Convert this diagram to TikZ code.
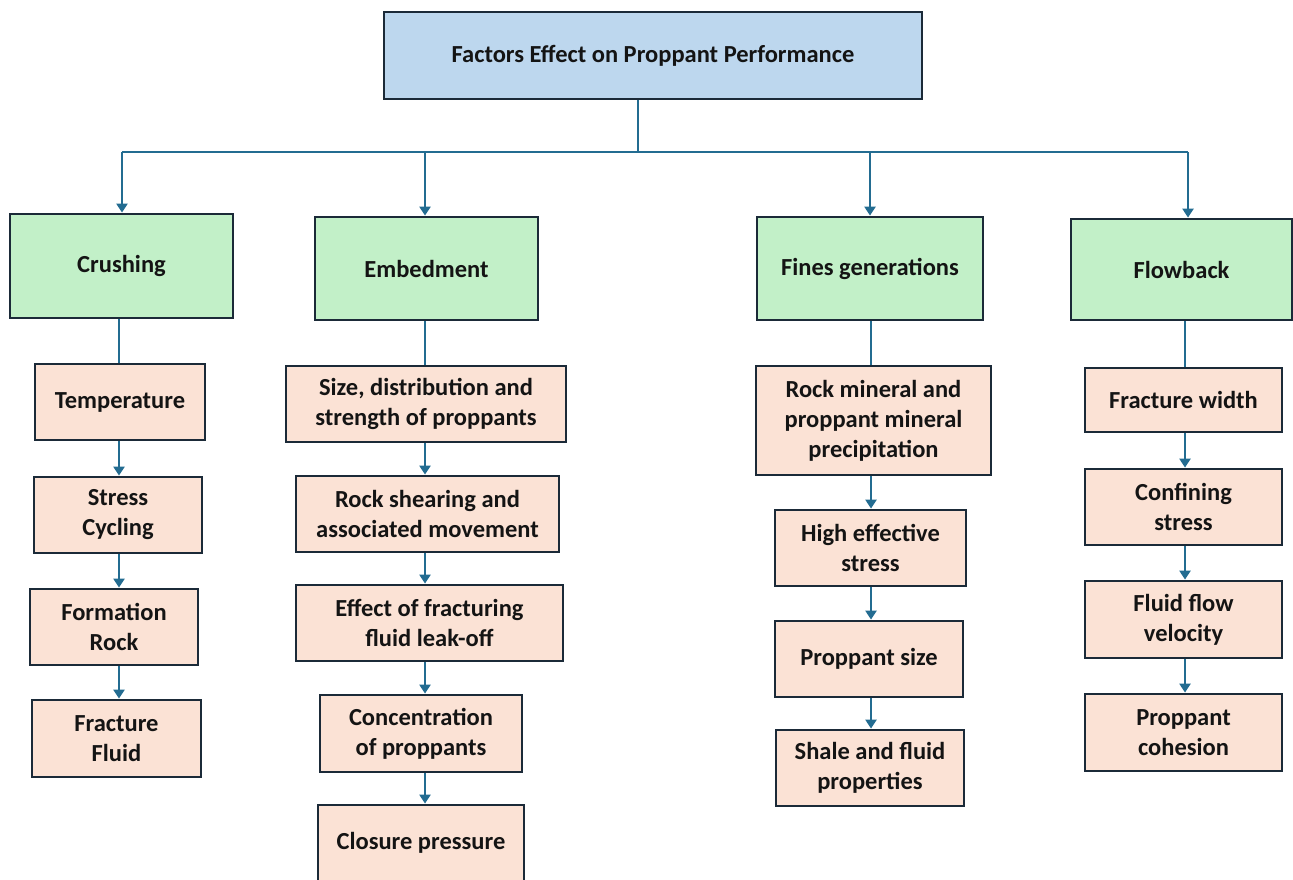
\documentclass[tikz,border=0pt]{standalone}
\usepackage{fontspec}
\setmainfont{Carlito}
\usetikzlibrary{arrows.meta}
\definecolor{bordc}{HTML}{1B2A38}
\definecolor{linec}{HTML}{236C91}
\definecolor{topc}{HTML}{BDD7EE}
\definecolor{catc}{HTML}{C2F0C8}
\definecolor{itemc}{HTML}{FBE2D5}
\begin{document}
\begin{tikzpicture}[x=1pt,y=-1pt,
  boxbase/.style={draw=bordc, line width=2.8pt, align=center, inner sep=0pt, text=black!92,
    font=\bfseries\fontsize{24.5}{30}\selectfont},
  topbox/.style={boxbase, fill=topc},
  catbox/.style={boxbase, fill=catc},
  itembox/.style={boxbase, fill=itemc},
  conn/.style={draw=linec, line width=2.4pt},
  arr/.style={conn, -{Triangle[width=11pt,length=9pt]}}]
\useasboundingbox (0,0) rectangle (1293,879);

% top
\node[topbox, minimum width=538, minimum height=87] (top) at (653,55.5) {Factors Effect on Proppant Performance};

% categories
\node[catbox, minimum width=223, minimum height=104] (crush) at (121.5,266) {Crushing};
\node[catbox, minimum width=223, minimum height=103] (embed) at (426.5,268.5) {Embedment};
\node[catbox, minimum width=226, minimum height=103] (fines) at (870,268.5) {Fines generations};
\node[catbox, minimum width=221, minimum height=101] (flow) at (1181.5,269.5) {Flowback};

% crushing column
\node[itembox, minimum width=170, minimum height=76] (c1) at (120,402) {Temperature};
\node[itembox, minimum width=168, minimum height=76] (c2) at (118,515) {Stress\\Cycling};
\node[itembox, minimum width=168, minimum height=76] (c3) at (114,627) {Formation\\Rock};
\node[itembox, minimum width=169, minimum height=77] (c4) at (116.5,738.5) {Fracture\\Fluid};

% embedment column
\node[itembox, minimum width=280, minimum height=76] (e1) at (426,404) {Size, distribution and\\strength of proppants};
\node[itembox, minimum width=263, minimum height=76] (e2) at (427.5,514) {Rock shearing and\\associated movement};
\node[itembox, minimum width=267, minimum height=76] (e3) at (429.5,623) {Effect of fracturing\\fluid leak-off};
\node[itembox, minimum width=202, minimum height=77] (e4) at (421,733.5) {Concentration\\of proppants};
\node[itembox, minimum width=206, minimum height=76] (e5) at (421,843) {Closure pressure};

% fines column
\node[itembox, minimum width=235, minimum height=109] (f1) at (873.5,420.5) {Rock mineral and\\proppant mineral\\precipitation};
\node[itembox, minimum width=191, minimum height=76] (f2) at (870.5,548) {High effective\\stress};
\node[itembox, minimum width=188, minimum height=76] (f3) at (869,659) {Proppant size};
\node[itembox, minimum width=188, minimum height=76] (f4) at (870,768) {Shale and fluid\\properties};

% flowback column
\node[itembox, minimum width=197, minimum height=64] (g1) at (1183.5,400) {Fracture width};
\node[itembox, minimum width=197, minimum height=76] (g2) at (1183.5,507) {Confining\\stress};
\node[itembox, minimum width=197, minimum height=77] (g3) at (1183.5,619.5) {Fluid flow\\velocity};
\node[itembox, minimum width=197, minimum height=77] (g4) at (1183.5,732.5) {Proppant\\cohesion};

% column x coordinates
\coordinate (bus) at (638,152);
\coordinate (xa) at (122,152);
\coordinate (xb) at (425,152);
\coordinate (xc) at (870,152);
\coordinate (xd) at (1188,152);
\coordinate (ya) at (119,0);
\coordinate (yb) at (425,0);
\coordinate (yc) at (871,0);
\coordinate (yd) at (1185,0);

% bus
\draw[conn] (top.south -| bus) -- (bus);
\draw[conn] (xa) -- (xd);
\draw[arr] (xa) -- (crush.north -| xa);
\draw[arr] (xb) -- (embed.north -| xb);
\draw[arr] (xc) -- (fines.north -| xc);
\draw[arr] (xd) -- (flow.north -| xd);

% category to first item
\draw[conn] (crush.south -| ya) -- (c1.north -| ya);
\draw[conn] (embed.south -| yb) -- (e1.north -| yb);
\draw[conn] (fines.south -| yc) -- (f1.north -| yc);
\draw[conn] (flow.south -| yd) -- (g1.north -| yd);

% item arrows
\draw[arr] (c1.south -| ya) -- (c2.north -| ya);
\draw[arr] (c2.south -| ya) -- (c3.north -| ya);
\draw[arr] (c3.south -| ya) -- (c4.north -| ya);

\draw[arr] (e1.south -| yb) -- (e2.north -| yb);
\draw[arr] (e2.south -| yb) -- (e3.north -| yb);
\draw[arr] (e3.south -| yb) -- (e4.north -| yb);
\draw[arr] (e4.south -| yb) -- (e5.north -| yb);

\draw[arr] (f1.south -| yc) -- (f2.north -| yc);
\draw[arr] (f2.south -| yc) -- (f3.north -| yc);
\draw[arr] (f3.south -| yc) -- (f4.north -| yc);

\draw[arr] (g1.south -| yd) -- (g2.north -| yd);
\draw[arr] (g2.south -| yd) -- (g3.north -| yd);
\draw[arr] (g3.south -| yd) -- (g4.north -| yd);
\end{tikzpicture}
\end{document}
